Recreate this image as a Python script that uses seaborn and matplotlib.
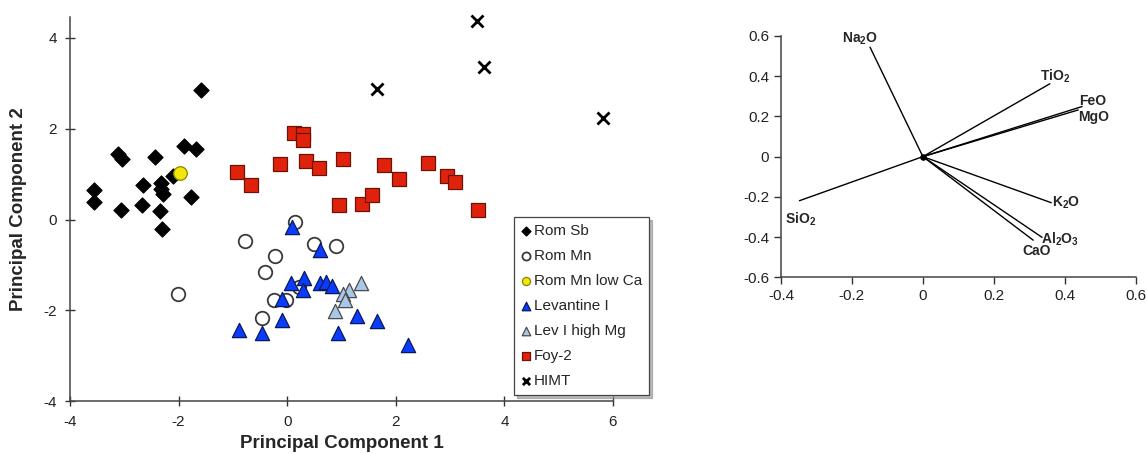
import matplotlib
matplotlib.use("Agg")
import numpy as np
import pandas as pd
import matplotlib.pyplot as plt
import seaborn as sns

# PCA scores (PC1, PC2)
rom_sb_pc1 = [-3.56, -3.56, -3.12, -3.04, -3.06, -2.66, -2.68, -2.44, -2.35, -2.32,
              -2.33, -2.28, -2.30, -2.10, -1.90, -1.68, -1.77, -1.59]
rom_sb_pc2 = [0.66, 0.39, 1.45, 1.34, 0.20, 0.77, 0.33, 1.38, 0.18, 0.81,
              0.68, 0.57, -0.20, 0.96, 1.62, 1.56, 0.50, 2.85]

rom_mn_pc1 = [0.14, -0.77, -0.22, -0.40, 0.50, 0.89, -2.02, -0.25, -0.02, -0.47, 0.22]
rom_mn_pc2 = [-0.06, -0.48, -0.80, -1.16, -0.53, -0.59, -1.63, -1.78, -1.78, -2.16, -1.48]

rom_mn_low_ca_pc1 = [-1.97]
rom_mn_low_ca_pc2 = [1.03]

levantine_pc1 = [0.09, 0.61, 0.07, 0.31, 0.29, 0.61, 0.71, 0.83, -0.09, -0.10,
                 -0.89, -0.46, 0.93, 1.28, 1.65, 2.22]
levantine_pc2 = [-0.17, -0.68, -1.40, -1.28, -1.56, -1.40, -1.38, -1.47, -1.75, -2.20,
                 -2.42, -2.49, -2.49, -2.13, -2.23, -2.77]

lev_high_mg_pc1 = [1.36, 1.13, 1.02, 1.07, 0.88]
lev_high_mg_pc2 = [-1.40, -1.56, -1.63, -1.78, -2.02]

foy2_pc1 = [-0.92, -0.66, -0.13, 0.13, 0.30, 0.29, 0.34, 0.58, 1.02, 0.95,
            1.37, 1.57, 1.78, 2.05, 2.60, 2.95, 3.09, 3.52]
foy2_pc2 = [1.05, 0.75, 1.23, 1.91, 1.88, 1.75, 1.29, 1.13, 1.33, 0.32,
            0.34, 0.53, 1.19, 0.89, 1.25, 0.96, 0.83, 0.21]

himt_pc1 = [3.50, 3.62, 1.66, 5.81]
himt_pc2 = [4.36, 3.36, 2.87, 2.23]

# loadings of the oxides on PC1 / PC2
oxides = ["Na$_2$O", "TiO$_2$", "FeO", "MgO", "K$_2$O", "Al$_2$O$_3$", "CaO", "SiO$_2$"]
load_pc1 = [-0.149, 0.358, 0.449, 0.438, 0.362, 0.336, 0.311, -0.348]
load_pc2 = [0.544, 0.362, 0.249, 0.232, -0.229, -0.401, -0.415, -0.219]

groups = {
    "Rom Sb": (rom_sb_pc1, rom_sb_pc2),
    "Rom Mn": (rom_mn_pc1, rom_mn_pc2),
    "Rom Mn low Ca": (rom_mn_low_ca_pc1, rom_mn_low_ca_pc2),
    "Levantine I": (levantine_pc1, levantine_pc2),
    "Lev I high Mg": (lev_high_mg_pc1, lev_high_mg_pc2),
    "Foy-2": (foy2_pc1, foy2_pc2),
    "HIMT": (himt_pc1, himt_pc2),
}

# marker, face, edge, size, linewidth
styles = {
    "Rom Sb": ("D", "black", "black", 60, 0.8),
    "Rom Mn": ("o", "white", "#3a3a3a", 95, 1.3),
    "Rom Mn low Ca": ("o", "#f2e60a", "#8a8400", 95, 0.9),
    "Levantine I": ("^", "#0a3cff", "#0a1a55", 105, 0.9),
    "Lev I high Mg": ("^", "#a9c8e8", "#4a4a4a", 105, 0.9),
    "Foy-2": ("s", "#e0220c", "#6a1408", 95, 0.9),
    "HIMT": ("x", "black", "black", 75, 2.0),
}

rows = []
for name, (xs, ys) in groups.items():
    for x, y in zip(xs, ys):
        rows.append({"group": name, "pc1": x, "pc2": y})
scores = pd.DataFrame(rows)

vec_rows = []
for ox, x, y in zip(oxides, load_pc1, load_pc2):
    vec_rows.append({"oxide": ox, "x": 0.0, "y": 0.0})
    vec_rows.append({"oxide": ox, "x": x, "y": y})
vectors = pd.DataFrame(vec_rows)

sns.set_style("ticks")
plt.rcParams["font.family"] = ["Liberation Sans", "DejaVu Sans"]
plt.rcParams["axes.unicode_minus"] = False
plt.rcParams["mathtext.fontset"] = "custom"
plt.rcParams["mathtext.rm"] = "Liberation Sans:bold"
plt.rcParams["mathtext.default"] = "rm"

fig = plt.figure(figsize=(11.46, 4.54), dpi=100)
ax1 = fig.add_axes([0.0611, 0.116, 0.4738, 0.846])
ax2 = fig.add_axes([0.6815, 0.389, 0.3095, 0.532])

# score plot
for name in groups:
    marker, face, edge, size, lw = styles[name]
    sub = scores[scores["group"] == name]
    if marker == "x":
        sns.scatterplot(data=sub, x="pc1", y="pc2", marker=marker, color=face,
                        s=size, linewidth=lw, label=name, ax=ax1, clip_on=False)
    else:
        sns.scatterplot(data=sub, x="pc1", y="pc2", marker=marker, color=face,
                        edgecolor=edge, s=size, linewidth=lw, label=name, ax=ax1,
                        clip_on=False)

ax1.set_xlim(-4, 6)
ax1.set_ylim(-4, 4.45)
ax1.set_xticks([-4, -2, 0, 2, 4, 6])
ax1.set_yticks([-4, -2, 0, 2, 4])
ax1.set_xlabel("Principal Component 1", fontsize=13.5, weight="bold", labelpad=5)
ax1.set_ylabel("Principal Component 2", fontsize=13.5, weight="bold", labelpad=12)
sns.despine(ax=ax1)

leg = ax1.legend(loc="upper left", bbox_to_anchor=(0.818, 0.48), borderaxespad=0,
                 fontsize=11, markerscale=0.6, handlelength=0.7, handletextpad=0.15,
                 labelspacing=0.72, borderpad=0.45, frameon=True, fancybox=False,
                 shadow={"ox": 2, "oy": -2, "color": "0.55", "alpha": 0.6})
leg.get_frame().set_edgecolor("#444444")
leg.get_frame().set_linewidth(0.9)

# loading plot
sns.lineplot(data=vectors, x="x", y="y", units="oxide", estimator=None, sort=False,
             color="black", linewidth=1.0, ax=ax2)
ax2.scatter([0], [0], s=14, color="black", zorder=3)

# label offsets in pixels (dx, dy)
label_off = {
    "Na$_2$O": (-10, 8), "TiO$_2$": (5, 7), "FeO": (11, 6), "MgO": (15, -7),
    "K$_2$O": (15, 0), "Al$_2$O$_3$": (18, -2), "CaO": (3, -11), "SiO$_2$": (1, -19),
}
for ox, x, y in zip(oxides, load_pc1, load_pc2):
    ax2.annotate(ox, (x, y), xytext=label_off[ox], textcoords="offset pixels",
                 ha="center", va="center", fontsize=10, weight="bold")

ax2.set_xlim(-0.4, 0.6)
ax2.set_ylim(-0.6, 0.6)
ax2.set_xticks([-0.4, -0.2, 0, 0.2, 0.4, 0.6])
ax2.set_xticklabels(["-0.4", "-0.2", "0", "0.2", "0.4", "0.6"])
ax2.set_yticks([-0.6, -0.4, -0.2, 0, 0.2, 0.4, 0.6])
ax2.set_yticklabels(["-0.6", "-0.4", "-0.2", "0", "0.2", "0.4", "0.6"])
ax2.set_xlabel("")
ax2.set_ylabel("")
sns.despine(ax=ax2)

for ax in (ax1, ax2):
    ax.tick_params(labelsize=11, length=5, width=1.0, direction="out", colors="#333333",
                   labelcolor="#222222")
    for sp in ("left", "bottom"):
        ax.spines[sp].set_color("#444444")
        ax.spines[sp].set_linewidth(1.1)
ax1.tick_params(direction="inout", length=7, pad=6)

fig.savefig("out.png", dpi=100)
